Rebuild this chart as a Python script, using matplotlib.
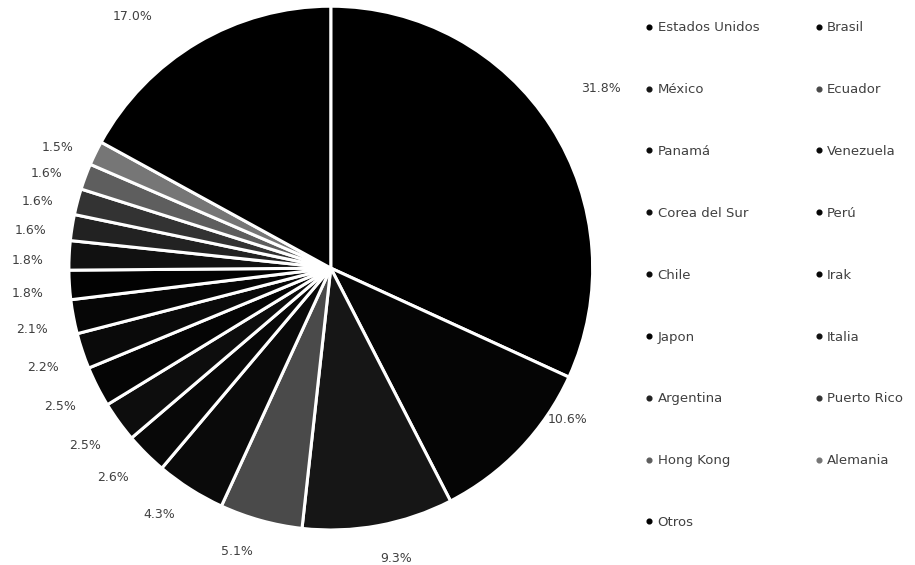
import numpy as np
import matplotlib
matplotlib.use("Agg")
import matplotlib.pyplot as plt
from matplotlib.lines import Line2D

countries = ["Estados Unidos", "Brasil", "México", "Ecuador", "Panamá", "Venezuela",
             "Corea del Sur", "Perú", "Chile", "Irak", "Japon", "Italia",
             "Argentina", "Puerto Rico", "Hong Kong", "Alemania", "Otros"]
shares = [31.8, 10.6, 9.3, 5.1, 4.3, 2.6, 2.5, 2.5, 2.2, 2.1, 1.8, 1.8,
          1.6, 1.6, 1.6, 1.5, 17.0]
pct_labels = ["31.8%", "10.6%", "9.3%", "5.1%", "4.3%", "2.6%", "2.5%", "2.5%",
              "2.2%", "2.1%", "1.8%", "1.8%", "1.6%", "1.6%", "1.6%", "1.5%", "17.0%"]

colors = ["#000000", "#050505", "#161616", "#4a4a4a", "#0a0a0a", "#080808",
          "#0d0d0d", "#050505", "#0a0a0a", "#060606", "#020202", "#111111",
          "#222222", "#333333", "#5e5e5e", "#767676", "#000000"]

plt.rcParams['font.family'] = ['DejaVu Sans']
fig = plt.figure(figsize=(9.15, 5.65), dpi=100)
fig.patch.set_facecolor("white")

ax = fig.add_axes([0.075, 0.062, 0.573, 0.927])
wedges, _ = ax.pie(shares, colors=colors, startangle=90, counterclock=False,
                   wedgeprops=dict(edgecolor="white", linewidth=2.2))
ax.set_aspect("equal")
ax.set_xlim(-1, 1)
ax.set_ylim(-1, 1)

# label placement: anchor at radial distance, text box pushed outward
default_place = (1.085, 0.0)
special_place = {0: (1.197, 3.1), 1: (1.0, 11.0), 2: (1.085, 2.0),
                 3: (1.085, -2.5), 4: (1.085, -2.0), 5: (1.085, -1.0),
                 16: (1.20, 5.7)}
half_w, half_h, drop = 14.0, 4.5, 5.0  # points
for i, w in enumerate(wedges):
    d, shift = special_place.get(i, default_place)
    mid = np.deg2rad((w.theta1 + w.theta2) / 2.0 + shift)
    ax.annotate(pct_labels[i], xy=(d * np.cos(mid), d * np.sin(mid)),
                xytext=(half_w * np.cos(mid), half_h * np.sin(mid) - drop),
                textcoords="offset points", ha="center", va="center",
                fontsize=9, color="#404040", annotation_clip=False)

handles = [Line2D([0], [0], marker="o", linestyle="none", markersize=3.4,
                  markerfacecolor=c, markeredgecolor=c) for c in colors]
order = list(range(0, len(countries), 2)) + list(range(1, len(countries), 2))
leg = fig.legend([handles[i] for i in order], [countries[i] for i in order],
                 ncol=2, loc="upper left", bbox_to_anchor=(0.705, 0.962),
                 frameon=False, fontsize=9.5, labelspacing=3.70,
                 handlelength=0.6, handletextpad=0.35, columnspacing=4.2,
                 borderpad=0, borderaxespad=0)
for t in leg.get_texts():
    t.set_color("#404040")

fig.savefig("out.png", dpi=100, facecolor="white")
